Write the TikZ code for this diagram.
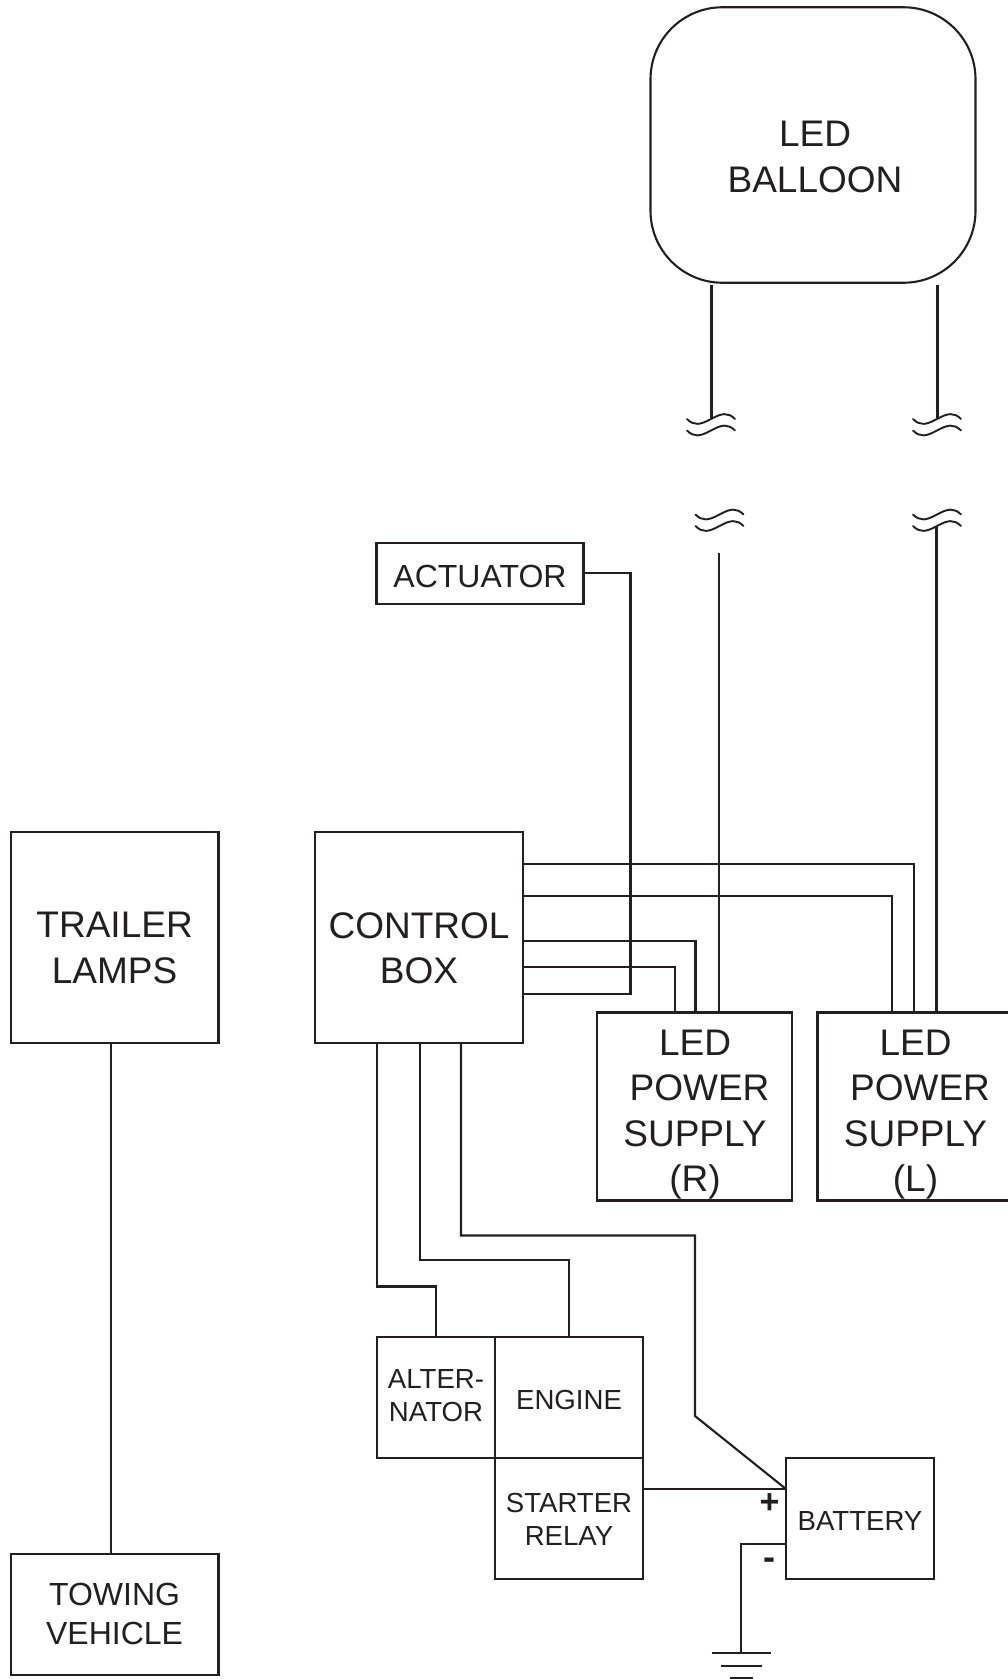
\documentclass[tikz,border=0pt]{standalone}
\usepackage{fontspec}
\setmainfont{Liberation Sans}
\definecolor{ink}{HTML}{231F20}
\tikzset{
  x=1pt,y=-1pt,
  every node/.style={text=ink,inner sep=0pt,outer sep=0pt},
  wire/.style={draw=ink,line width=2.1pt,line join=miter},
  box/.style={draw=ink,line width=2.1pt,rectangle},
  txtA/.style={align=center,font=\fontsize{37}{45.5}\selectfont},
  txtB/.style={align=center,font=\fontsize{32}{39.5}\selectfont},
  txtC/.style={align=center,font=\fontsize{27.6}{33}\selectfont},
  brk/.pic={\draw[draw=ink,line width=1.9pt,line cap=round] (0,0) .. controls (7,7) and (13,6) .. (24,0) .. controls (35,-6) and (41,-7) .. (48,0);
            \draw[draw=ink,line width=1.9pt,line cap=round] (0,11.5) .. controls (7,18.5) and (13,17.5) .. (24,11.5) .. controls (35,5.5) and (41,4.5) .. (48,11.5);}
}
\begin{document}
\begin{tikzpicture}
\useasboundingbox (0,0) rectangle (1008,1679);
% boxes
\node[box,rounded corners=72pt,minimum width=325pt,minimum height=275.5pt] (balloon) at (813,145) {};
\node[box,minimum width=207pt,minimum height=61pt] (actuator) at (480,573.5) {};
\node[box,minimum width=207.5pt,minimum height=211pt] (lamps) at (114.75,937.5) {};
\node[box,minimum width=207.5pt,minimum height=211pt] (ctrl) at (419,937.5) {};
\node[box,minimum width=194.6pt,minimum height=188pt] (psr) at (694.5,1106.5) {};
\node[minimum width=190pt,minimum height=188pt] (psl) at (912.5,1106.5) {};
\draw[wire] (psl.north east) -- (psl.north west) -- (psl.south west) -- (psl.south east);
\node[box,minimum width=207.5pt,minimum height=121pt] (tow) at (114.75,1614.5) {};
\node[box,minimum width=118pt,minimum height=121pt] (alt) at (436,1397.5) {};
\node[box,minimum width=148pt,minimum height=121pt] (eng) at (569,1397.5) {};
\node[box,minimum width=148pt,minimum height=121pt] (rel) at (569,1518.5) {};
\node[box,minimum width=148pt,minimum height=121pt] (bat) at (860,1518.5) {};
% labels
\node[txtA] (tballoon) at (815,157) {LED\\BALLOON};
\node[txtB] (tact) at (480,576) {ACTUATOR};
\node[txtA] (tlamps) at (114.6,948) {TRAILER\\LAMPS};
\node[txtA] (tctrl) at (419,948) {CONTROL\\BOX};
\node[txtA] (tpsr) at (695,1114.5) {LED\\\hspace*{9pt}POWER\\SUPPLY\\(R)};
\node[txtA] (tpsl) at (915.5,1114.5) {LED\\\hspace*{9pt}POWER\\SUPPLY\\(L)};
\node[txtB] (ttow) at (114.6,1614) {TOWING\\VEHICLE};
\node[txtC] (talt) at (436,1396) {ALTER-\\NATOR};
\node[txtC] (teng) at (569,1400) {ENGINE};
\node[txtC] (trel) at (569,1519) {STARTER\\RELAY};
\node[txtC] (tbat) at (860,1521) {BATTERY};
\node[font=\bfseries\fontsize{34}{34}\selectfont] (plus) at (769.5,1504) {+};
\node[font=\bfseries\fontsize{36}{36}\selectfont] (minus) at (769.5,1564) {-};
% break coordinates
\coordinate (bUL) at (711.5,418);
\coordinate (bUR) at (937.5,418);
\coordinate (bLL) at (719,553);
\coordinate (bLR) at (936.5,527);
\pic at (687,419) {brk};
\pic at (913,419) {brk};
\pic at (695.5,514.5) {brk};
\pic at (913,514.5) {brk};
% connectors
\draw[wire] (balloon.south -| bUL) ++(0,2) -- (bUL);
\draw[wire] (balloon.south -| bUR) ++(0,2) -- (bUR);
\draw[wire] (bLL) -- (bLL |- psr.north);
\draw[wire] (bLR) -- (bLR |- psl.north);
\draw[wire] (actuator.east |- 0,573) -| (630.5,993.7) -- (ctrl.east |- 0,993.7);
\draw[wire] (ctrl.east |- 0,864.3) -| (914,0 |- psl.north);
\draw[wire] (ctrl.east |- 0,895.7) -| (892,0 |- psl.north);
\draw[wire] (ctrl.east |- 0,940.7) -| (695.5,0 |- psr.north);
\draw[wire] (ctrl.east |- 0,967) -| (675,0 |- psr.north);
\draw[wire] (lamps.south -| 111,0) -- (tow.north -| 111,0);
\draw[wire] (ctrl.south -| 377,0) |- (436,1286.5) -- (alt.north -| 436,0);
\draw[wire] (ctrl.south -| 420,0) |- (569,1260) -- (eng.north);
\draw[wire] (ctrl.south -| 461,0) |- (695,1235.5) -- (695,1416) -- (bat.west |- 0,1489);
\draw[wire] (rel.east |- 0,1489) -- (bat.west |- 0,1489);
\coordinate (gnd) at (741,1653);
\draw[wire] (bat.west |- 0,1543.6) -| (gnd);
\node (g1) at (741,1653) [minimum width=59pt,minimum height=0pt] {};
\node (g2) at (741,1666) [minimum width=41pt,minimum height=0pt] {};
\node (g3) at (741,1678) [minimum width=23pt,minimum height=0pt] {};
\draw[wire] (g1.west) -- (g1.east);
\draw[wire] (g2.west) -- (g2.east);
\draw[wire] (g3.west) -- (g3.east);
\end{tikzpicture}
\end{document}
